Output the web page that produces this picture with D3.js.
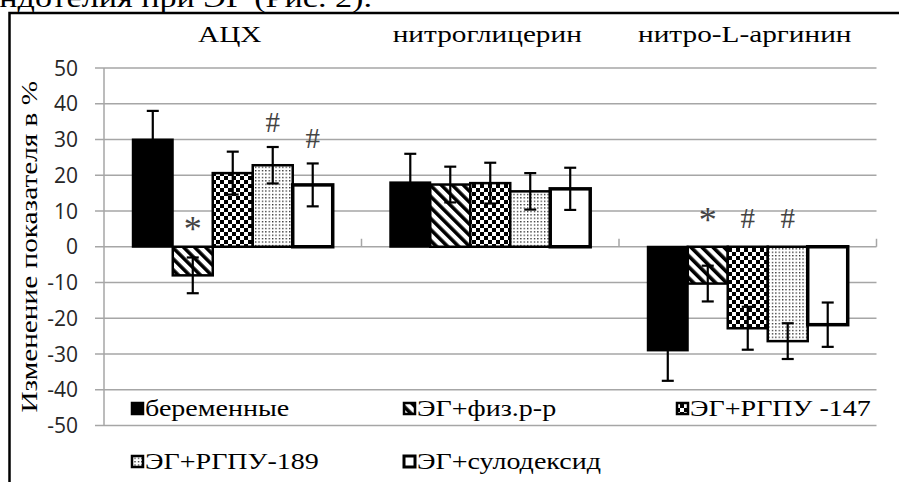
<!DOCTYPE html>
<html>
<head>
<meta charset="utf-8">
<script src="https://cdn.jsdelivr.net/npm/d3@7"></script>
<style>
  html, body { margin: 0; padding: 0; background: #fff; }
  svg { display: block; }
  .serif { font-family: 'Liberation Serif', 'DejaVu Serif', 'Times New Roman', serif; }
  .sans { font-family: 'Open Sans', 'Noto Sans', sans-serif; }
</style>
</head>
<body>
<svg id="chart" width="899" height="482"></svg>
<script>
// categories and series
var categories = ['АЦХ', 'нитроглицерин', 'нитро-L-аргинин'];
var seriesNames = ['беременные', 'ЭГ+физ.р-р', 'ЭГ+РГПУ -147', 'ЭГ+РГПУ-189', 'ЭГ+сулодексид'];

// values per series, one entry per category
var pregnant   = [30, 18, -29];
var saline     = [-8, 17.4, -10.3];
var rgpu147    = [20.6, 17.8, -22.8];
var rgpu189    = [22.8, 15.5, -26.4];
var sulodexide = [17.3, 16.2, -21.8];

// error bar half-widths
var errPregnant   = [8, 8, 8.5];
var errSaline     = [5, 5, 5];
var errRgpu147    = [6, 5.7, 6];
var errRgpu189    = [5.1, 5.1, 5];
var errSulodexide = [6, 5.9, 6.2];

var yTicks = [50, 40, 30, 20, 10, 0, -10, -20, -30, -40, -50];

// significance marks: category, series, value at the text baseline
var markCats   = ['АЦХ', 'АЦХ', 'АЦХ', 'нитро-L-аргинин', 'нитро-L-аргинин', 'нитро-L-аргинин'];
var markSeries = ['ЭГ+физ.р-р', 'ЭГ+РГПУ-189', 'ЭГ+сулодексид', 'ЭГ+физ.р-р', 'ЭГ+РГПУ -147', 'ЭГ+РГПУ-189'];
var markText   = ['*', '#', '#', '*', '#', '#'];
var markY      = [1.5, 32, 27.6, 4.2, 5.2, 5.2];

var allValues = [pregnant, saline, rgpu147, rgpu189, sulodexide];
var allErrors = [errPregnant, errSaline, errRgpu147, errRgpu189, errSulodexide];

var bars = [];
seriesNames.forEach(function(s, i) {
    categories.forEach(function(c, j) {
        bars.push({ cat: c, series: s, si: i, value: allValues[i][j], err: allErrors[i][j] });
    });
});

var svg = d3.select('#chart');
var stretch = 1.22; // the source text is a bit wider than the plain font

var plotLeft = 104, plotRight = 876.5, plotTop = 68, plotBottom = 425.5;

var x0 = d3.scaleBand().domain(categories).range([plotLeft, plotRight]).padding(0);
var x1 = d3.scaleBand().domain(seriesNames).range([0, x0.bandwidth()]).paddingInner(0).paddingOuter(0.72);
var y = d3.scaleLinear().domain([-50, 50]).range([plotBottom, plotTop]);

function place(x, yy) {
    return 'translate(' + x + ',' + yy + ') scale(' + stretch + ',1)';
}

// patterns
var defs = svg.append('defs');

var pStripe = defs.append('pattern').attr('id', 'stripes')
    .attr('patternUnits', 'userSpaceOnUse').attr('width', 7.8).attr('height', 7.8)
    .attr('patternTransform', 'rotate(-45)');
pStripe.append('rect').attr('width', 7.8).attr('height', 7.8).attr('fill', '#fff');
pStripe.append('rect').attr('width', 3.6).attr('height', 7.8).attr('fill', '#000');

var pCheck = defs.append('pattern').attr('id', 'checker')
    .attr('patternUnits', 'userSpaceOnUse').attr('width', 8).attr('height', 8);
pCheck.append('rect').attr('width', 8).attr('height', 8).attr('fill', '#fff');
pCheck.append('rect').attr('width', 4).attr('height', 4).attr('fill', '#000');
pCheck.append('rect').attr('x', 4).attr('y', 4).attr('width', 4).attr('height', 4).attr('fill', '#000');

var pDots = defs.append('pattern').attr('id', 'dots')
    .attr('patternUnits', 'userSpaceOnUse').attr('width', 3.4).attr('height', 3.4);
pDots.append('rect').attr('width', 3.4).attr('height', 3.4).attr('fill', '#fff');
pDots.append('rect').attr('width', 1.3).attr('height', 1.3).attr('fill', '#222');

var fills = ['#000', 'url(#stripes)', 'url(#checker)', 'url(#dots)', '#fff'];
var strokeW = [2, 2.5, 2.5, 2.5, 3.5];

// top caption cut by the page edge
svg.append('text')
    .attr('class', 'serif')
    .attr('transform', place(372, 7))
    .attr('text-anchor', 'end')
    .attr('font-size', 28)
    .text('эндотелия при ЭГ (Рис. 2).');

// frame
svg.append('rect')
    .attr('x', 9.5).attr('y', 13)
    .attr('width', 900).attr('height', 480)
    .attr('fill', 'none').attr('stroke', '#000').attr('stroke-width', 2.5);

// grid
svg.append('g').selectAll('line')
    .data(yTicks).enter().append('line')
    .attr('x1', 95).attr('x2', plotRight)
    .attr('y1', function(d) { return y(d); })
    .attr('y2', function(d) { return y(d); })
    .attr('stroke', '#a6a6a6').attr('stroke-width', 1.5);

svg.append('line')
    .attr('x1', plotLeft).attr('x2', plotLeft).attr('y1', plotTop).attr('y2', plotBottom)
    .attr('stroke', '#a6a6a6').attr('stroke-width', 1.5);

// category ticks along the zero line
svg.append('g').selectAll('line')
    .data(categories).enter().append('line')
    .attr('x1', function(d) { return x0(d) + x0.bandwidth(); })
    .attr('x2', function(d) { return x0(d) + x0.bandwidth(); })
    .attr('y1', y(0) - 8).attr('y2', y(0))
    .attr('stroke', '#a6a6a6').attr('stroke-width', 1.5);

// y tick labels
svg.append('g').selectAll('text')
    .data(yTicks).enter().append('text')
    .attr('class', 'sans')
    .attr('x', 78)
    .attr('y', function(d) { return y(d) + 7.5; })
    .attr('text-anchor', 'end')
    .attr('font-size', 21)
    .attr('fill', '#262626')
    .text(function(d) { return d; });

// y title
svg.append('text')
    .attr('class', 'serif')
    .attr('transform', 'translate(37,' + y(0) + ') rotate(-90) scale(' + stretch + ',1)')
    .attr('text-anchor', 'middle')
    .attr('font-size', 24)
    .text('Изменение показателя в %');

// category labels
svg.append('g').selectAll('text')
    .data(categories).enter().append('text')
    .attr('class', 'serif')
    .attr('transform', function(d) { return place(x0(d) + x0.bandwidth() / 2 - 3, 42); })
    .attr('text-anchor', 'middle')
    .attr('font-size', 24)
    .text(function(d) { return d; });

// bars
svg.append('g').selectAll('rect')
    .data(bars).enter().append('rect')
    .attr('x', function(d) { return x0(d.cat) + x1(d.series); })
    .attr('width', x1.bandwidth())
    .attr('y', function(d) { return y(Math.max(0, d.value)); })
    .attr('height', function(d) { return Math.abs(y(d.value) - y(0)); })
    .attr('fill', function(d) { return fills[d.si]; })
    .attr('stroke', '#000')
    .attr('stroke-width', function(d) { return strokeW[d.si]; });

// error bars
var eb = svg.append('g').selectAll('g')
    .data(bars).enter().append('g')
    .attr('transform', function(d) { return 'translate(' + (x0(d.cat) + x1(d.series) + x1.bandwidth() / 2) + ',0)'; });
eb.append('line')
    .attr('y1', function(d) { return y(d.value - d.err); })
    .attr('y2', function(d) { return y(d.value + d.err); })
    .attr('stroke', '#000')
    .attr('stroke-width', 2.2);
eb.append('line')
    .attr('x1', -6).attr('x2', 6)
    .attr('y1', function(d) { return y(d.value + d.err); })
    .attr('y2', function(d) { return y(d.value + d.err); })
    .attr('stroke', '#000').attr('stroke-width', 2.2);
eb.append('line')
    .attr('x1', -6).attr('x2', 6)
    .attr('y1', function(d) { return y(d.value - d.err); })
    .attr('y2', function(d) { return y(d.value - d.err); })
    .attr('stroke', '#000').attr('stroke-width', 2.2);

// significance marks
svg.append('g').selectAll('text')
    .data(markText).enter().append('text')
    .attr('class', 'serif')
    .attr('x', function(d, i) { return x0(markCats[i]) + x1(markSeries[i]) + x1.bandwidth() / 2; })
    .attr('y', function(d, i) { return y(markY[i]); })
    .attr('text-anchor', 'middle')
    .attr('font-size', function(d) { return d === '*' ? 36 : 29; })
    .attr('fill', '#444')
    .text(function(d) { return d; });

// legend
var legX = [131, 403, 676, 131, 403];
var legY = [408, 408, 408, 461, 461];
var leg = svg.append('g').selectAll('g')
    .data(seriesNames).enter().append('g')
    .attr('transform', function(d, i) { return 'translate(' + legX[i] + ',' + legY[i] + ')'; });
leg.append('rect')
    .attr('x', 1).attr('y', -5).attr('width', 11).attr('height', 11)
    .attr('fill', function(d, i) { return fills[i]; })
    .attr('stroke', '#000').attr('stroke-width', function(d, i) { return i === 4 ? 3 : 2.5; });
leg.append('text')
    .attr('class', 'serif')
    .attr('transform', place(14, 7.5))
    .attr('font-size', 23)
    .text(function(d) { return d; });
</script>
</body>
</html>
